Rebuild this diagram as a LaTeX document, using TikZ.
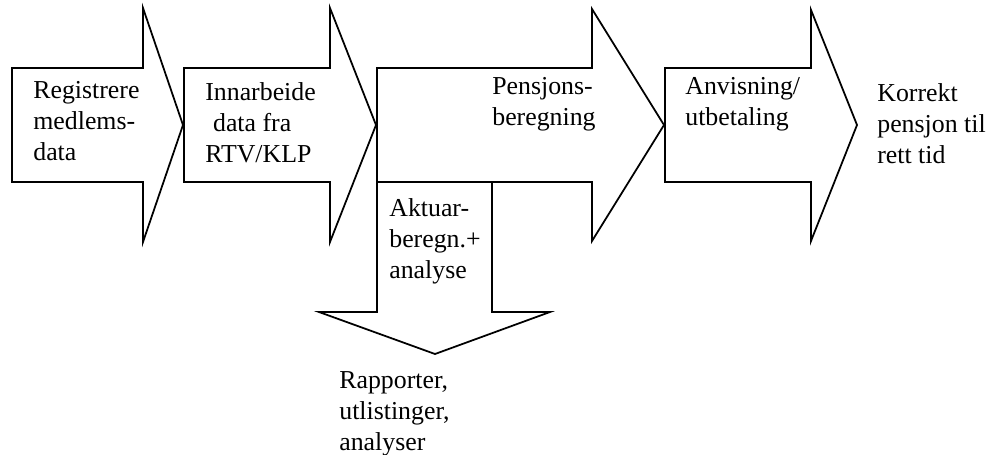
\documentclass[tikz,border=0pt]{standalone}
\usepackage{fontspec}
\setmainfont{Liberation Serif}
\usepackage{tikz}
\usetikzlibrary{positioning}

\begin{document}
\begin{tikzpicture}[
    x=0.02cm, y=-0.02cm,
    every node/.style={font=\fontsize{14.7}{17.6}\selectfont, inner sep=0pt},
    blockarrow/.style={draw=black, fill=white, line width=1pt, line join=miter},
    label/.style={anchor=base west, align=left}
]
\useasboundingbox (0,0) rectangle (991,454);

% ---- main chain of block arrows ----
\draw[blockarrow] (12,68) -- (143,68) -- (143,8) -- (183,125) -- (143,242)
  -- (143,182) -- (12,182) -- cycle;
\draw[blockarrow] (184,68) -- (330,68) -- (330,8) -- (376,125) -- (330,242)
  -- (330,182) -- (184,182) -- cycle;
\draw[blockarrow] (377,68) -- (592,68) -- (592,9) -- (664,125) -- (592,241)
  -- (592,182) -- (377,182) -- cycle;
\draw[blockarrow] (665,68) -- (811,68) -- (811,10) -- (857,125) -- (811,241)
  -- (811,182) -- (665,182) -- cycle;

% ---- side branch: arrow pointing down ----
\draw[blockarrow] (377,182) -- (492,182) -- (492,312) -- (550,312) -- (435,354)
  -- (319,312) -- (377,312) -- cycle;

% ---- labels (base = last line) ----
\node[label] (registrere) at (33,160) {Registrere\\medlems-\\data};
\node[label] (innarbeide) at (205,162) {Innarbeide\\\hspace*{0.3em}data fra\\RTV/KLP};
\node[label] (beregning) at (492,125) {Pensjons-\\beregning};
\node[label] (anvisning) at (685,125) {Anvisning/\\utbetaling};
\node[label] (resultat) at (877,163) {Korrekt\\pensjon til\\rett tid};
\node[label] (aktuar) at (389,278) {Aktuar-\\beregn.+\\analyse};
\node[label] (rapporter) at (339,450) {Rapporter,\\utlistinger,\\analyser};
\end{tikzpicture}
\end{document}
